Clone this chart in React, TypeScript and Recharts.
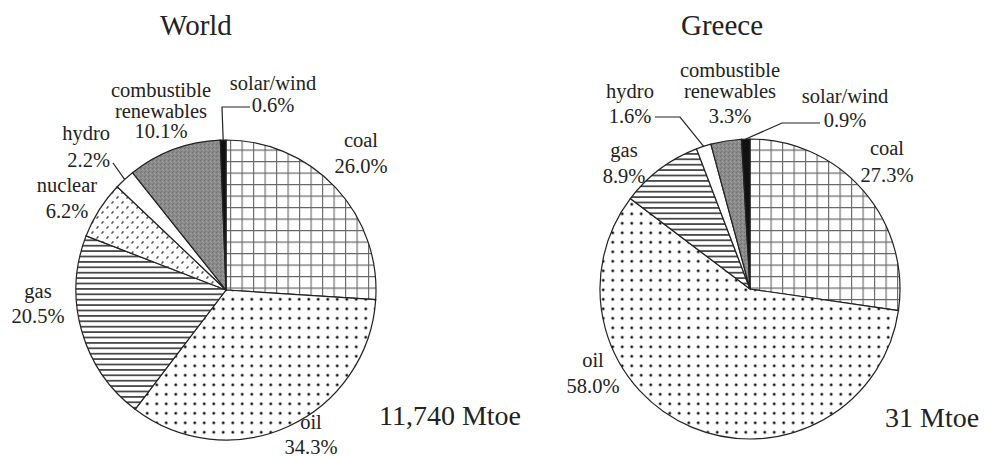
import React from "react";
import { PieChart, Pie, Cell } from "recharts";

// shares in percent, clockwise from 12 o'clock
const worldSources = ["coal", "oil", "gas", "nuclear", "hydro", "combustible renewables", "solar/wind"];
const worldShares = [26.0, 34.3, 20.5, 6.2, 2.2, 10.1, 0.6];

const greeceSources = ["coal", "oil", "gas", "hydro", "combustible renewables", "solar/wind"];
const greeceShares = [27.3, 58.0, 8.9, 1.6, 3.3, 0.9];

const titles = ["World", "Greece"];
const totals = ["11,740 Mtoe", "31 Mtoe"];

const W = 990;
const H = 457;
const R = 150;
const FONT = "'Liberation Serif', 'Times New Roman', serif";
const INK = "#222";
const RADIAN = Math.PI / 180;

const fills: Record<string, string> = {
  coal: "url(#pGrid)",
  oil: "url(#pDots)",
  gas: "url(#pHLines)",
  nuclear: "url(#pDash)",
  hydro: "#ffffff",
  "combustible renewables": "url(#pSpeckle)",
  "solar/wind": "#111111",
};

type Spot = {
  dx: number; // text x, relative to pie centre
  dys: number[]; // baselines of each line, relative to pie centre
  anchor?: "start" | "middle" | "end";
  leader?: [number, number][]; // extra points after the arc point
};

const worldSpots: Record<string, Spot> = {
  coal: { dx: 135, dys: [-143, -117] },
  oil: { dx: 85, dys: [139, 164] },
  gas: { dx: -188, dys: [8, 33] },
  nuclear: { dx: -159, dys: [-98, -72] },
  hydro: { dx: -116, dys: [-150, -123], anchor: "end", leader: [[-113, -127]] },
  "combustible renewables": { dx: -65, dys: [-193, -172, -152] },
  "solar/wind": { dx: 47, dys: [-200, -178], leader: [[-4, -183], [24, -183]] },
};

const greeceSpots: Record<string, Spot> = {
  coal: { dx: 137, dys: [-134, -107] },
  oil: { dx: -157, dys: [78, 104] },
  gas: { dx: -126, dys: [-132, -106] },
  hydro: { dx: -120, dys: [-191, -166], leader: [[-70, -172], [-95, -172]] },
  "combustible renewables": { dx: -20, dys: [-212, -191, -166] },
  "solar/wind": { dx: 95, dys: [-186, -162], leader: [[32, -166], [70, -166]] },
};

const toRows = (names: string[], shares: number[]) =>
  names.map((name, i) => ({ name, value: shares[i] }));

const txt = { fontFamily: FONT, fill: INK };

const makeLabel = (spots: Record<string, Spot>) => (props: any) => {
  const { cx, cy, midAngle, outerRadius } = props;
  const name: string = props.payload?.name ?? props.name;
  const value: number = props.payload?.value ?? props.value;
  const spot = spots[name];
  if (!spot) return null;
  const lines = [...name.split(" "), `${value.toFixed(1)}%`];
  const ax = cx + outerRadius * Math.cos(-midAngle * RADIAN);
  const ay = cy + outerRadius * Math.sin(-midAngle * RADIAN);
  const pts = spot.leader
    ? [[ax, ay], ...spot.leader.map(([x, y]) => [cx + x, cy + y])]
    : null;
  return (
    <g key={`lbl-${name}`}>
      {pts && (
        <polyline
          points={pts.map((p) => p.join(",")).join(" ")}
          fill="none"
          stroke={INK}
          strokeWidth={1.2}
        />
      )}
      {lines.map((t, i) => (
        <text
          key={i}
          x={cx + spot.dx}
          y={cy + spot.dys[i]}
          textAnchor={spot.anchor ?? "middle"}
          style={{ ...txt, fontSize: 20.5 }}
        >
          {t}
        </text>
      ))}
    </g>
  );
};

const Patterns = () => (
  <defs>
    <pattern id="pGrid" width={11.5} height={11.5} patternUnits="userSpaceOnUse">
      <rect width={11.5} height={11.5} fill="#fff" />
      <path d="M0.6 0 V11.5 M0 0.6 H11.5" stroke="#666" strokeWidth={1.1} />
    </pattern>
    <pattern id="pDots" width={9.5} height={9.5} patternUnits="userSpaceOnUse">
      <rect width={9.5} height={9.5} fill="#fff" />
      <circle cx={4.75} cy={4.75} r={1.45} fill="#111" />
    </pattern>
    <pattern id="pHLines" width={10} height={5.4} patternUnits="userSpaceOnUse">
      <rect width={10} height={5.4} fill="#fff" />
      <line x1={0} y1={2.7} x2={10} y2={2.7} stroke="#333" strokeWidth={1.6} />
    </pattern>
    <pattern id="pDash" width={10} height={10} patternUnits="userSpaceOnUse">
      <rect width={10} height={10} fill="#fff" />
      <ellipse cx={2.5} cy={2.5} rx={1.6} ry={0.9} fill="#555" transform="rotate(-50 2.5 2.5)" />
      <ellipse cx={7.5} cy={7.5} rx={1.6} ry={0.9} fill="#555" transform="rotate(-50 7.5 7.5)" />
    </pattern>
    <pattern id="pSpeckle" width={4} height={4} patternUnits="userSpaceOnUse">
      <rect width={4} height={4} fill="#8a8a8a" />
      <rect x={0} y={0} width={1} height={1} fill="#6f6f6f" />
      <rect x={2} y={1} width={1} height={1} fill="#a4a4a4" />
      <rect x={1} y={3} width={1} height={1} fill="#777" />
      <rect x={3} y={2} width={1} height={1} fill="#9c9c9c" />
    </pattern>
  </defs>
);

export default function App() {
  const world = toRows(worldSources, worldShares);
  const greece = toRows(greeceSources, greeceShares);

  const pie = (rows: { name: string; value: number }[], cx: number, cy: number, spots: Record<string, Spot>) => (
    <Pie
      data={rows}
      dataKey="value"
      nameKey="name"
      cx={cx}
      cy={cy}
      outerRadius={R}
      startAngle={90}
      endAngle={-270}
      isAnimationActive={false}
      labelLine={false}
      label={makeLabel(spots)}
    >
      {rows.map((r) => (
        <Cell key={r.name} fill={fills[r.name]} stroke={INK} strokeWidth={1.2} />
      ))}
    </Pie>
  );

  return (
    <div style={{ position: "absolute", left: 0, top: 0, width: W, height: H, background: "#fff" }}>
      <svg width={W} height={H} style={{ position: "absolute", left: 0, top: 0 }}>
        <Patterns />
      </svg>
      <div style={{ position: "absolute", left: 0, top: 0, fontFamily: FONT }}>
        <PieChart width={W} height={H}>
          {pie(world, 221, 285, worldSpots)}
          {pie(greece, 745, 284, greeceSpots)}
        </PieChart>
      </div>
      <svg width={W} height={H} style={{ position: "absolute", left: 0, top: 0, pointerEvents: "none" }}>
        <text x={196} y={35} textAnchor="middle" style={{ ...txt, fontSize: 29 }}>
          {titles[0]}
        </text>
        <text x={722} y={35} textAnchor="middle" style={{ ...txt, fontSize: 29 }}>
          {titles[1]}
        </text>
        <text x={450} y={425} textAnchor="middle" style={{ ...txt, fontSize: 28 }}>
          {totals[0]}
        </text>
        <text x={885} y={427} textAnchor="start" style={{ ...txt, fontSize: 28 }}>
          {totals[1]}
        </text>
      </svg>
    </div>
  );
}
